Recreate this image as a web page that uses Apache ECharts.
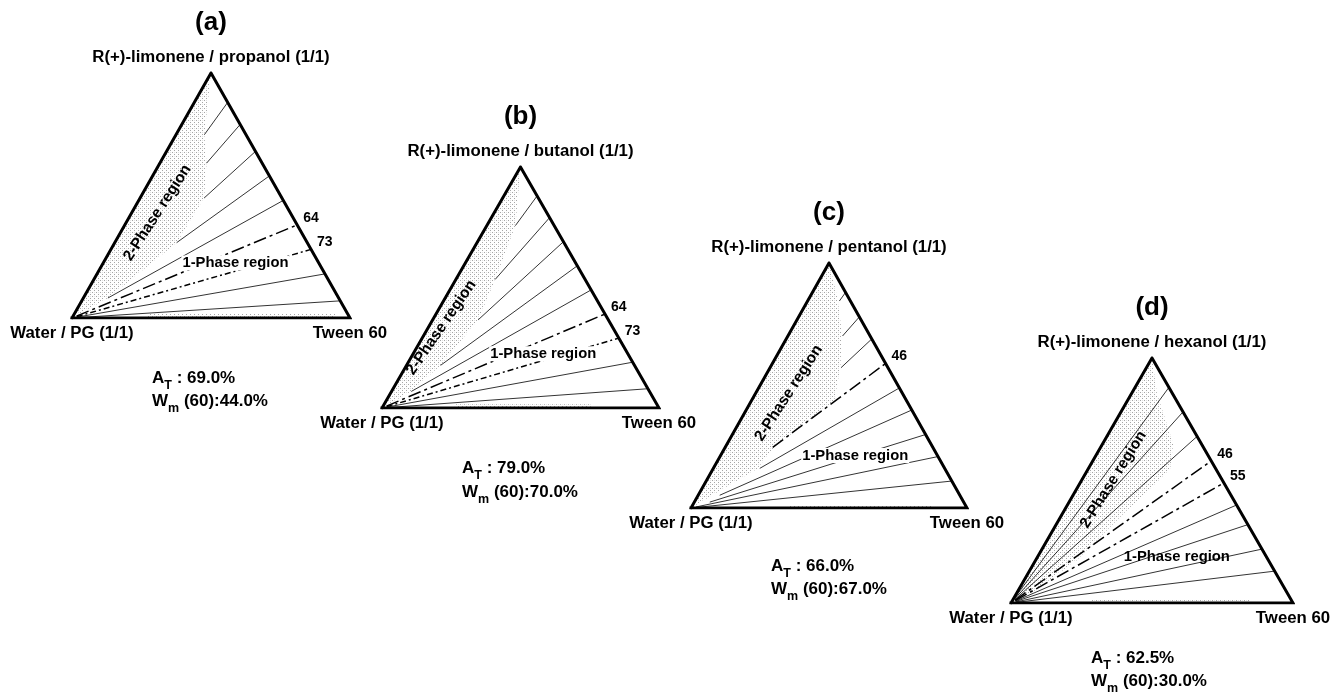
<!DOCTYPE html>
<html><head><meta charset="utf-8">
<script src="https://cdn.jsdelivr.net/npm/echarts@6/dist/echarts.min.js"></script>
<style>html,body{margin:0;padding:0;background:#fff}#c{width:1335px;height:692px}</style>
</head><body><div id="c"></div><script>
// ---------- data ----------
const panelTags = ['(a)', '(b)', '(c)', '(d)'];
const oilLabels = ['R(+)-limonene / propanol (1/1)', 'R(+)-limonene / butanol (1/1)',
                   'R(+)-limonene / pentanol (1/1)', 'R(+)-limonene / hexanol (1/1)'];
const waterLabel = 'Water / PG (1/1)';
const tweenLabel = 'Tween 60';
const areaTotal = ['69.0%', '79.0%', '66.0%', '62.5%'];
const wmValues  = ['44.0%', '70.0%', '67.0%', '30.0%'];

// dilution lines: Tween 60 % on the surfactant / oil edge
const tweenA = [12, 21, 32, 42, 52, 62, 72, 82, 93];
const tweenB = [12, 21, 31, 41, 51, 61, 71, 81, 92];
const tweenC = [12, 22, 31, 41, 51, 60, 70, 79, 89];
const tweenD = [12, 22, 32, 42, 51, 60, 68, 78, 87];
// fraction of each dilution line (from the water vertex) where the drawn part begins
const startA = [0.85, 0.80, 0.72, 0.53, 0.17, 0.02, 0.02, 0.02, 0.02];
const startB = [0.86, 0.675, 0.53, 0.30, 0.14, 0.02, 0.02, 0.02, 0.02];
const startC = [0.96, 0.90, 0.83, 0.42, 0.33, 0.13, 0.08, 0.02, 0.02];
const startD = [0.02, 0.02, 0.02, 0.02, 0.02, 0.02, 0.02, 0.02, 0.02];
// line kind: 0 solid, 1 dash-dot, 2 short dash-dot
const kindA = [0, 0, 0, 0, 0, 1, 2, 0, 0];
const kindB = [0, 0, 0, 0, 0, 1, 2, 0, 0];
const kindC = [0, 0, 0, 1, 0, 0, 0, 0, 0];
const kindD = [0, 0, 0, 1, 1, 0, 0, 0, 0];
// phase-boundary labels on the edge
const markA = ['', '', '', '', '', '64', '73', '', ''];
const markB = ['', '', '', '', '', '64', '73', '', ''];
const markC = ['', '', '', '46', '', '', '', '', ''];
const markD = ['', '', '', '46', '55', '', '', '', ''];
// 2-phase region boundary, [Tween %, oil %]
const shadeA = [[0, 100], [10.2, 74.8], [16.8, 63.2], [23, 49], [22.3, 30.7], [8.8, 8.2], [0, 0]];
const shadeB = [[0, 100], [10.3, 75.7], [14.2, 53.3], [16.4, 36.6], [12.3, 17.7], [7.1, 6.9], [0, 0]];
const shadeC = [[0, 100], [10.5, 85.3], [19.2, 71], [25.4, 57.4], [30, 43.9], [17.6, 24.7], [16, 16], [7, 7.2], [0, 0]];
const shadeD = [[0, 100], [9, 85.5], [25, 65], [29.3, 54.2], [22.1, 37.8], [14.6, 17.4], [4.9, 3.8], [0, 0]];
// thin 2-phase strip along the water / Tween edge, [Tween %, oil %]
const stripA = [[27, 0], [94, 0], [94, 1.6], [27, 1.6]];
const stripB = [[26, 0], [75, 0], [75, 1.6], [26, 1.6]];
const stripC = [[35, 0], [87, 0], [87, 1.2], [35, 1.2]];
const stripD = [[28, 0], [84, 0], [84, 1.6], [28, 1.6]];
// triangle vertices [Tween %, oil %]
const vertices = [[0, 0], [100, 0], [0, 100], [0, 0]];

const panels = [
  {tween: tweenA, start: startA, kind: kindA, mark: markA, shade: shadeA, strip: stripA},
  {tween: tweenB, start: startB, kind: kindB, mark: markB, shade: shadeB, strip: stripB},
  {tween: tweenC, start: startC, kind: kindC, mark: markC, shade: shadeC, strip: stripC},
  {tween: tweenD, start: startD, kind: kindD, mark: markD, shade: shadeD, strip: stripD}
];

// ---------- layout ----------
const grids = [
  {left: 72, top: 73, width: 278, height: 245},
  {left: 382, top: 167, width: 277, height: 241},
  {left: 691, top: 263, width: 276, height: 245},
  {left: 1011, top: 358, width: 282, height: 245}
];
const onePhasePos = [[0.588, 0.224], [0.582, 0.225], [0.595, 0.214], [0.588, 0.188]];
const onePhaseBg  = [true, true, true, false];
const twoPhasePos = [[0.307, 0.429, 57], [0.214, 0.334, 55.5], [0.354, 0.469, 57], [0.363, 0.504, 58]];
const statDy = [[63, 86], [63, 87], [61, 84], [58, 81]];
const FONT = 'Liberation Sans, Arial, Helvetica, sans-serif';

// ternary [Tween %, oil %] -> cartesian in the unit triangle
function cart(t, o) { return [(t + o / 2) / 100, o / 100]; }

// stipple pattern for 2-phase region
const pc = document.createElement('canvas');
pc.width = 4; pc.height = 4;
const pctx = pc.getContext('2d');
pctx.fillStyle = '#ffffff'; pctx.fillRect(0, 0, 4, 4);
pctx.fillStyle = '#a6a6a6'; pctx.fillRect(0, 0, 1, 1); pctx.fillRect(2, 2, 1, 1);
pctx.fillStyle = '#e2e2e2'; pctx.fillRect(2, 0, 1, 1);
const stipple = {image: pc, repeat: 'repeat'};

const dashes = [null, [13, 4, 3, 4], [6, 3, 2, 3]];

const chart = echarts.init(document.getElementById('c'), null, {renderer: 'canvas'});
const option = {
  backgroundColor: '#ffffff',
  animation: false,
  grid: grids.map(g => Object.assign({outerBoundsMode: 'none', containLabel: false}, g)),
  xAxis: grids.map((g, i) => ({type: 'value', gridIndex: i, min: 0, max: 1, show: false})),
  yAxis: grids.map((g, i) => ({type: 'value', gridIndex: i, min: 0, max: 1, show: false})),
  series: []
};

panels.forEach((p, i) => {
  const polySeries = (pts, name) => ({
    type: 'custom', name, coordinateSystem: 'cartesian2d', xAxisIndex: i, yAxisIndex: i,
    silent: true, clip: false, z: 1,
    data: pts.map(q => cart(q[0], q[1])),
    renderItem: function (params, api) {
      if (params.dataIndex !== 0) return null;
      const points = pts.map(q => api.coord(cart(q[0], q[1])));
      return {type: 'polygon', shape: {points}, style: {fill: stipple, stroke: null}};
    }
  });
  option.series.push(polySeries(p.shade, 'shade' + i));
  option.series.push(polySeries(p.strip, 'strip' + i));
  option.series.push({
    type: 'custom', coordinateSystem: 'cartesian2d', xAxisIndex: i, yAxisIndex: i,
    silent: true, clip: false, z: 3,
    data: p.tween.map((T, k) => [T, p.start[k], p.kind[k]]),
    renderItem: function (params, api) {
      const T = api.value(0), s = api.value(1), kd = api.value(2);
      const e = cart(T, 100 - T);
      const p1 = api.coord([e[0] * s, e[1] * s]);
      const p2 = api.coord(e);
      return {
        type: 'line',
        shape: {x1: p1[0], y1: p1[1], x2: p2[0], y2: p2[1]},
        style: {stroke: '#000', lineWidth: kd ? 1.5 : 0.8, lineDash: dashes[kd] || null}
      };
    }
  });
  option.series.push({
    type: 'line', xAxisIndex: i, yAxisIndex: i, silent: true, z: 5,
    data: vertices.map(v => cart(v[0], v[1])),
    symbol: 'none',
    lineStyle: {color: '#000', width: 3, join: 'miter', miterLimit: 10, cap: 'square'}
  });
});
chart.setOption(option);

// ---------- text ----------
const graphic = [];
function txt(x, y, text, size, extra) {
  const st = Object.assign({
    text, x: 0, y: 0, fill: '#000',
    font: 'bold ' + size + 'px ' + FONT,
    align: 'center', verticalAlign: 'middle',
    textAlign: 'center', textVerticalAlign: 'middle'
  }, (extra && extra.style) || {});
  const el = {type: 'text', x, y, z: 100, style: st, silent: true};
  if (extra && extra.rotation) el.rotation = extra.rotation;
  graphic.push(el);
}
panels.forEach((p, i) => {
  const px = pt => chart.convertToPixel({gridIndex: i}, pt);
  const top = px([0.5, 1]), wv = px([0, 0]), tv = px([1, 0]);
  txt(top[0], top[1] - 50, panelTags[i], 26);
  txt(top[0], top[1] - 16, oilLabels[i], 16.8);
  txt(wv[0], wv[1] + 15, waterLabel, 16.8);
  txt(tv[0], tv[1] + 15, tweenLabel, 16.8);
  p.mark.forEach((m, k) => {
    if (!m) return;
    const T = p.tween[k];
    const e = px(cart(T, 100 - T));
    txt(e[0] + 6, e[1] - 7, m, 14, {style: {align: 'left', textAlign: 'left'}});
  });
  const op = px(onePhasePos[i]);
  txt(op[0], op[1], '1-Phase region', 14.8,
      {style: onePhaseBg[i] ? {backgroundColor: '#fff', padding: [0, 1]} : {}});
  const tp = px([twoPhasePos[i][0], twoPhasePos[i][1]]);
  txt(tp[0], tp[1], '2-Phase region', 15.5, {rotation: twoPhasePos[i][2] * Math.PI / 180});
  const rich = {
    n: {fontSize: 17, fontWeight: 'bold', fontFamily: FONT, lineHeight: 22, verticalAlign: 'top', fill: '#000'},
    s: {fontSize: 12.5, fontWeight: 'bold', fontFamily: FONT, lineHeight: 10, verticalAlign: 'bottom', fill: '#000'}
  };
  graphic.push({type: 'text', x: wv[0] + 80, y: wv[1] + statDy[i][0], z: 100, silent: true,
    style: {text: '{n|A}{s|T}{n| : ' + areaTotal[i] + '}', rich,
            align: 'left', verticalAlign: 'middle', textAlign: 'left', textVerticalAlign: 'middle'}});
  graphic.push({type: 'text', x: wv[0] + 80, y: wv[1] + statDy[i][1], z: 100, silent: true,
    style: {text: '{n|W}{s|m}{n| (60):' + wmValues[i] + '}', rich,
            align: 'left', verticalAlign: 'middle', textAlign: 'left', textVerticalAlign: 'middle'}});
});
chart.setOption({graphic});
</script></body></html>
